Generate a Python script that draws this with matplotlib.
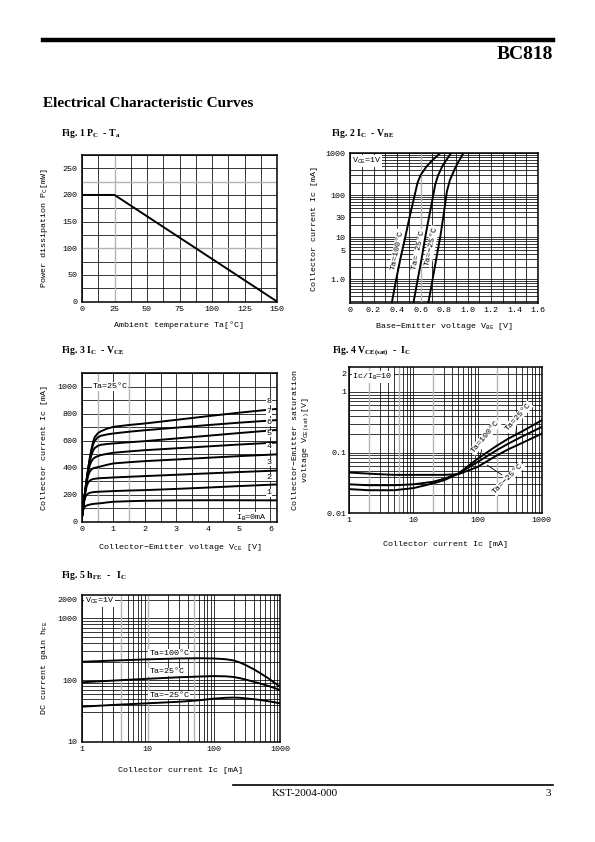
import matplotlib
matplotlib.use('Agg')
import matplotlib.pyplot as plt

plt.rcParams['font.family'] = ['Liberation Mono', 'DejaVu Sans']
plt.rcParams['mathtext.default'] = 'regular'
plt.rcParams['axes.linewidth'] = 1.1

W, H = 595, 842

# ---- Fig. 1  Pc - Ta
ta_temp = [0, 25, 150]
pc_power = [200, 200, 0]

# ---- Fig. 2  Ic - Vbe  (Vce = 1V)
vbe_100 = [0.355, 0.39, 0.43, 0.47, 0.51, 0.55, 0.575, 0.60, 0.65, 0.70, 0.766]
ic_100 = [0.27, 0.9, 3.2, 10, 33, 100, 200, 300, 480, 680, 1000]
vbe_25 = [0.539, 0.57, 0.61, 0.64, 0.67, 0.70, 0.725, 0.75, 0.79, 0.859]
ic_25 = [0.27, 0.8, 3.2, 10, 28, 75, 180, 300, 520, 1000]
vbe_m25 = [0.666, 0.70, 0.74, 0.77, 0.80, 0.825, 0.85, 0.90, 0.964]
ic_m25 = [0.27, 0.9, 3.8, 11, 40, 125, 230, 480, 1000]

# ---- Fig. 3  Ic - Vce  (Ib = 1..8 mA)
vce = [0, 0.03, 0.06, 0.1, 0.15, 0.2, 0.25, 0.3, 0.35, 0.4, 0.5, 0.6, 0.8, 1.0, 1.5, 2, 3, 4, 5, 6.2]
ic_ib1 = [35, 80, 100, 113, 120, 124, 127, 130, 131, 133, 135, 137, 143, 148, 152, 155, 158, 159, 159, 158]
ic_ib2 = [35, 90, 140, 180, 200, 209, 214, 217, 219, 220, 222, 223, 225, 227, 231, 234, 243, 253, 264, 276]
ic_ib3 = [35, 93, 148, 210, 265, 292, 305, 312, 316, 318, 321, 323, 325, 328, 333, 338, 348, 358, 368, 379]
ic_ib4 = [35, 95, 150, 220, 295, 345, 372, 387, 395, 399, 404, 410, 422, 432, 441, 449, 461, 474, 486, 499]
ic_ib5 = [35, 95, 150, 223, 305, 375, 420, 448, 465, 475, 486, 494, 503, 511, 521, 530, 544, 558, 572, 587]
ic_ib6 = [35, 95, 150, 225, 312, 390, 450, 495, 525, 545, 562, 570, 576, 580, 589, 597, 617, 637, 657, 680]
ic_ib7 = [35, 95, 150, 225, 315, 398, 468, 525, 570, 598, 625, 637, 647, 654, 667, 678, 697, 716, 734, 753]
ic_ib8 = [35, 95, 150, 226, 316, 400, 474, 537, 590, 625, 655, 670, 690, 703, 717, 728, 755, 782, 808, 836]
ib_names = ['1', '2', '3', '4', '5', '6', '7', '8']
ib_label_y = [188, 302, 414, 530, 626, 712, 788, 866]

# ---- Fig. 4  Vce(sat) - Ic  (Ic/Ib = 10)
ic_sat = [1, 2, 3, 5, 10, 20, 30, 50, 100, 200, 300, 500, 1000]
vsat_m25 = [0.047, 0.045, 0.044, 0.043, 0.043, 0.043, 0.043, 0.044, 0.058, 0.090, 0.113, 0.145, 0.205]
vsat_25 = [0.030, 0.029, 0.029, 0.029, 0.030, 0.033, 0.037, 0.045, 0.070, 0.110, 0.140, 0.185, 0.264]
vsat_100 = [0.025, 0.024, 0.024, 0.024, 0.026, 0.031, 0.035, 0.045, 0.079, 0.130, 0.169, 0.225, 0.340]

# ---- Fig. 5  hFE - Ic  (Vce = 1V)
ic_hfe = [1, 3, 10, 30, 60, 100, 150, 200, 250, 300, 400, 500, 700, 1000]
hfe_100 = [198, 207, 217, 224, 226, 224, 218, 208, 192, 176, 150, 130, 103, 78]
hfe_25 = [92, 98, 105, 111, 114, 116, 115, 112, 107, 102, 94, 88, 79, 69]
hfe_m25 = [37, 39.5, 42, 44.5, 47, 50, 51.5, 52, 51.5, 50.5, 49, 47.5, 45, 42]

fig = plt.figure(figsize=(W / 100, H / 100), dpi=100)


def px(x, y):
    return x / W, 1 - y / H


def make_axes(l, t, r, b):
    return fig.add_axes([l / W, 1 - b / H, (r - l) / W, (b - t) / H])


def style(ax):
    ax.tick_params(which='both', length=0, labelsize=6, pad=3)
    ax.grid(which='both', color='black', lw=0.55)
    ax.set_axisbelow(True)


def log_minor(lo, hi):
    vals = []
    d = lo
    while d < hi:
        for m in range(1, 10):
            v = m * d
            if lo <= v <= hi:
                vals.append(v)
        d *= 10
    return vals


white = dict(facecolor='white', edgecolor='none', pad=0.6)
curve = dict(color='black', lw=1.4, zorder=3, solid_joinstyle='round')
fs = 6
tz = 2.5  # labels sit over the grid but under the curves

# header / footer
fig.add_artist(plt.Line2D([43 / W, 553 / W], [1 - 40 / H, 1 - 40 / H], color='black', lw=3.2))
fig.text(*px(553, 59), 'BC818', family='Liberation Serif', weight='bold', size=14, ha='right', va='baseline')
fig.text(*px(43, 107), 'Electrical Characteristic Curves', family='Liberation Serif', weight='bold', size=11, va='baseline')
fig.add_artist(plt.Line2D([233 / W, 553 / W], [1 - 785 / H, 1 - 785 / H], color='black', lw=1.2))
fig.text(*px(272, 796), 'KST-2004-000', family='Liberation Serif', size=8, va='baseline')
fig.text(*px(551, 796), '3', family='Liberation Serif', size=8, ha='right', va='baseline')

tfont = dict(family='Liberation Serif', weight='bold', size=7, va='center')
fig.text(*px(61, 134), r'Fig. 1 P$_C$  - T$_a$', **tfont)
fig.text(*px(331, 134), r'Fig. 2 I$_C$  - V$_{BE}$', **tfont)
fig.text(*px(61, 351), r'Fig. 3 I$_C$  - V$_{CE}$', **tfont)
fig.text(*px(332, 351), r'Fig. 4 V$_{CE(sat)}$  -  I$_C$', **tfont)
fig.text(*px(61, 575), r'Fig. 5 h$_{FE}$  -   I$_C$', **tfont)

# ---------------- Fig. 1
ax1 = make_axes(82, 155, 277, 301.5)
style(ax1)
ax1.plot(ta_temp, pc_power, **curve)
ax1.set_xlim(0, 150)
ax1.set_ylim(0, 275)
ax1.set_xticks(range(0, 151, 25))
ax1.set_xticks([12.5 + 25 * i for i in range(6)], minor=True)
ax1.set_yticks(range(0, 251, 50))
ax1.set_yticks(range(25, 276, 50), minor=True)
for x in [25]:
    ax1.axvline(x, color='0.7', lw=1.0)
for y in [100, 225]:
    ax1.axhline(y, color='0.7', lw=1.0)
ax1.set_xlabel('Ambient temperature Ta[°C]', size=fs)
ax1.set_ylabel(r'Power dissipation P$_C$[mW]', size=fs)
ax1.yaxis.set_label_coords(-32 / 195, 0.5)
ax1.xaxis.set_label_coords(0.5, -20 / 146.5)

# ---------------- Fig. 2
ax2 = make_axes(350, 153.3, 538, 303.3)
style(ax2)
ax2.set_yscale('log')
ax2.plot(vbe_100, ic_100, **curve)
ax2.plot(vbe_25, ic_25, **curve)
ax2.plot(vbe_m25, ic_m25, **curve)
ax2.set_xlim(0, 1.6)
ax2.set_ylim(0.27, 1000)
ax2.set_xticks([0, 0.2, 0.4, 0.6, 0.8, 1.0, 1.2, 1.4, 1.6],
               ['0', '0.2', '0.4', '0.6', '0.8', '1.0', '1.2', '1.4', '1.6'])
ax2.set_xticks([0.1 + 0.2 * i for i in range(8)], minor=True)
ax2.set_yticks([1, 5, 10, 30, 100, 1000], ['1.0', '5', '10', '30', '100', '1000'])
ax2.set_yticks([v for v in log_minor(0.1, 1000) if v > 0.27], minor=True)
ax2.yaxis.set_minor_formatter(plt.NullFormatter())
ax2.axvline(0.6, color='0.7', lw=1.0)
ax2.text(0.015, 650, 'V$_{CE}$=1V', size=fs, va='center', bbox=white, zorder=tz)
ax2.text(0.40, 5.1, 'Ta=100°C', size=fs, rotation=78, ha='center', va='center', bbox=white, zorder=tz)
ax2.text(0.585, 5.1, 'Ta= 25°C', size=fs, rotation=78, ha='center', va='center', bbox=white, zorder=tz)
ax2.text(0.69, 6.1, 'Ta=−25°C', size=fs, rotation=78, ha='center', va='center', bbox=white, zorder=tz)
ax2.set_xlabel('Base−Emitter voltage V$_{BE}$ [V]', size=fs)
ax2.set_ylabel('Collector current Ic [mA]', size=fs)
ax2.yaxis.set_label_coords(-32 / 188, 0.5)
ax2.xaxis.set_label_coords(0.5, -18 / 150)

# ---------------- Fig. 3
ax3 = make_axes(82, 373.3, 276.7, 521.7)
style(ax3)
for ic in [ic_ib1, ic_ib2, ic_ib3, ic_ib4, ic_ib5, ic_ib6, ic_ib7, ic_ib8]:
    ax3.plot(vce, ic, **curve)
ax3.set_xlim(0, 6.2)
ax3.set_ylim(0, 1100)
ax3.set_xticks(range(0, 7))
ax3.set_xticks([0.5 + i for i in range(6)], minor=True)
ax3.set_yticks(range(0, 1001, 200))
ax3.set_yticks(range(100, 1101, 200), minor=True)
for x in [0.5, 1.5]:
    ax3.axvline(x, color='0.7', lw=1.0)
for name, y in zip(ib_names, ib_label_y):
    ax3.text(5.95, y, name, size=fs, ha='center', va='bottom', zorder=4,
             bbox=dict(facecolor='white', edgecolor='none', pad=0.2))
ax3.text(5.9, 28, 'I$_B$=0mA', size=fs, ha='right', va='center', bbox=white, zorder=tz)
ax3.text(0.89, 1000, 'Ta=25°C', size=fs, ha='center', va='center', bbox=white, zorder=tz)
ax3.set_xlabel('Collector−Emitter voltage V$_{CE}$ [V]', size=fs)
ax3.set_ylabel('Collector current Ic [mA]', size=fs)
ax3.yaxis.set_label_coords(-34 / 194.7, 0.5)
ax3.xaxis.set_label_coords(0.5, -20 / 148.4)

# ---------------- Fig. 4
ax4 = make_axes(349.3, 366.7, 541.7, 513.3)
style(ax4)
ax4.set_xscale('log')
ax4.set_yscale('log')
ax4.plot(ic_sat, vsat_100, **curve)
ax4.plot(ic_sat, vsat_25, **curve)
ax4.plot(ic_sat, vsat_m25, **curve)
ax4.set_xlim(1, 1000)
ax4.set_ylim(0.01, 2.6)
ax4.set_xticks([1, 10, 100, 1000], ['1', '10', '100', '1000'])
ax4.set_xticks(log_minor(1, 1000), minor=True)
ax4.set_yticks([0.01, 0.1, 1, 2], ['0.01', '0.1', '1', '2'])
ax4.set_yticks(log_minor(0.01, 2.6), minor=True)
ax4.xaxis.set_minor_formatter(plt.NullFormatter())
ax4.yaxis.set_minor_formatter(plt.NullFormatter())
ax4.tick_params(axis='y', pad=2)
for x in [2, 6, 20, 200]:
    ax4.axvline(x, color='0.7', lw=1.0)
ax4.text(1.12, 1.75, 'Ic/I$_B$=10', size=fs, va='center', bbox=white, zorder=tz)
lead = dict(arrowstyle='-', lw=0.6, color='black')
ax4.annotate('Ta=100°C', xy=(105, 0.075), xytext=(131, 0.18), size=fs, rotation=50,
             ha='center', va='center', bbox=white, arrowprops=lead, zorder=tz)
ax4.annotate('Ta=25°C', xy=(385, 0.17), xytext=(427, 0.386), size=fs, rotation=48,
             ha='center', va='center', bbox=white, arrowprops=lead, zorder=tz)
ax4.annotate('Ta=−25°C', xy=(130, 0.066), xytext=(297, 0.037), size=fs, rotation=45,
             ha='center', va='center', bbox=white, arrowprops=lead, zorder=tz)
ax4.set_xlabel('Collector current Ic [mA]', size=fs)
ax4.set_ylabel('Collector−Emitter saturation\nvoltage V$_{CE(sat)}$[V]', size=fs, linespacing=1.3)
ax4.yaxis.set_label_coords(-38 / 192.4, 0.5)
ax4.xaxis.set_label_coords(0.5, -28 / 146.6)

# ---------------- Fig. 5
ax5 = make_axes(81.7, 595, 280, 741.7)
style(ax5)
ax5.set_xscale('log')
ax5.set_yscale('log')
ax5.plot(ic_hfe, hfe_100, **curve)
ax5.plot(ic_hfe, hfe_25, **curve)
ax5.plot(ic_hfe, hfe_m25, **curve)
ax5.set_xlim(1, 1000)
ax5.set_ylim(10, 2400)
ax5.set_xticks([1, 10, 100, 1000], ['1', '10', '100', '1000'])
ax5.set_xticks(log_minor(1, 1000), minor=True)
ax5.set_yticks([10, 100, 1000, 2000], ['10', '100', '1000', '2000'])
ax5.set_yticks([v for v in log_minor(10, 2400) if v >= 30], minor=True)
ax5.xaxis.set_minor_formatter(plt.NullFormatter())
ax5.yaxis.set_minor_formatter(plt.NullFormatter())
for x in [4, 10, 50]:
    ax5.axvline(x, color='0.7', lw=1.0)
ax5.text(1.12, 1900, 'V$_{CE}$=1V', size=fs, va='center', bbox=white, zorder=tz)
ax5.text(10.5, 272, 'Ta=100°C', size=fs, va='center', bbox=white, zorder=tz)
ax5.text(10.5, 136, 'Ta=25°C', size=fs, va='center', bbox=white, zorder=tz)
ax5.text(10.5, 57, 'Ta=−25°C', size=fs, va='center', bbox=white, zorder=tz)
ax5.set_xlabel('Collector current Ic [mA]', size=fs)
ax5.set_ylabel('DC current gain h$_{FE}$', size=fs)
ax5.yaxis.set_label_coords(-32 / 198.3, 0.5)
ax5.xaxis.set_label_coords(0.5, -25 / 146.7)

fig.savefig('out.png', dpi=100)
